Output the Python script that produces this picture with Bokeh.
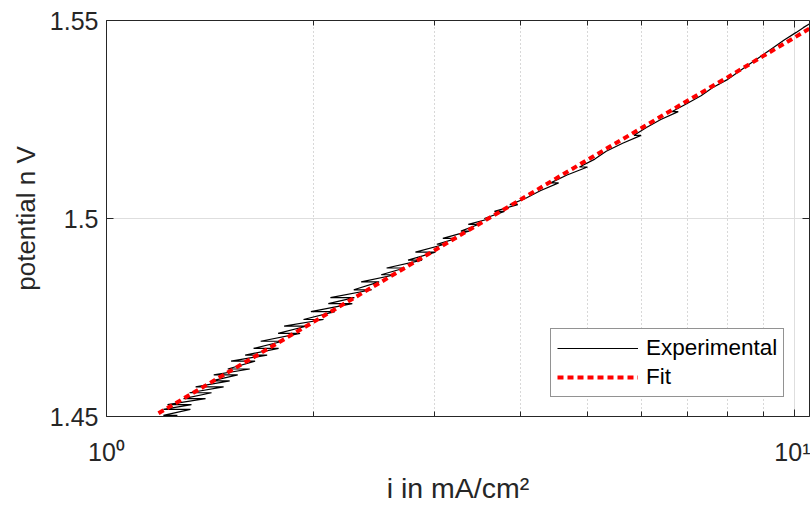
from bokeh.plotting import figure
from bokeh.models import (LogAxis, LinearAxis, FixedTicker, Legend, LegendItem,
                          Range1d, ColumnDataSource)
from bokeh.embed import file_html
from bokeh.resources import INLINE

# ---- data ----
exp_i = [1.2678, 1.2097, 1.3243, 1.2099, 1.3290, 1.2264, 1.3930, 1.2941,
         1.4213, 1.3204, 1.4799, 1.3476, 1.5103, 1.4219, 1.5515, 1.4318,
         1.6153, 1.5006, 1.6442, 1.5174, 1.7120, 1.5905, 1.7789, 1.6361,
         1.8033, 1.6754, 1.9116, 1.7760, 1.9506, 1.8121, 2.0675, 1.9336,
         2.1478, 1.9821, 2.2766, 2.1010, 2.2924, 2.1157, 2.4301, 2.2879,
         2.4906, 2.3452, 2.6282, 2.5078, 2.7120, 2.5536, 2.8748, 2.7432,
         3.0068, 2.8121, 3.1026, 3.0207, 3.2302, 3.0823, 3.3633, 3.2744,
         3.4706, 3.3564, 3.6134, 3.5417, 3.7879, 3.6630, 3.9611, 3.8563,
         4.0558, 4.2703, 4.5412, 4.4212, 4.6709, 5.0014, 4.8693, 5.1263,
         5.3256, 5.6262, 5.9835, 5.8450, 6.0930, 6.3932, 6.7764, 6.6416,
         6.9701, 7.3137, 7.5987, 7.9733, 8.2830, 8.6057, 8.9398, 9.2880,
         9.6483, 10.058, 10.298, 10.52]
exp_E = [1.4503, 1.4503, 1.4518, 1.4518, 1.4530, 1.4530, 1.4545, 1.4545,
         1.4560, 1.4560, 1.4575, 1.4575, 1.4590, 1.4590, 1.4605, 1.4605,
         1.4620, 1.4620, 1.4640, 1.4640, 1.4655, 1.4655, 1.4672, 1.4672,
         1.4690, 1.4690, 1.4710, 1.4710, 1.4728, 1.4728, 1.4745, 1.4745,
         1.4765, 1.4765, 1.4785, 1.4785, 1.4800, 1.4800, 1.4820, 1.4820,
         1.4840, 1.4840, 1.4858, 1.4858, 1.4875, 1.4875, 1.4895, 1.4895,
         1.4915, 1.4915, 1.4935, 1.4935, 1.4950, 1.4950, 1.4968, 1.4968,
         1.4985, 1.4985, 1.5000, 1.5000, 1.5018, 1.5018, 1.5035, 1.5035,
         1.5050, 1.5070, 1.5090, 1.5090, 1.5110, 1.5130, 1.5130, 1.5150,
         1.5170, 1.5190, 1.5210, 1.5210, 1.5230, 1.5250, 1.5270, 1.5270,
         1.5290, 1.5310, 1.5330, 1.5350, 1.5370, 1.5390, 1.5410, 1.5430,
         1.5450, 1.5470, 1.5482, 1.5492]

fit_i = [1.19, 1.5, 2, 3, 4, 5, 6, 7, 8, 9, 10, 10.52]
fit_E = [1.4508, 1.4611, 1.4739, 1.4920, 1.5048, 1.5148, 1.5229, 1.5298,
         1.5357, 1.5410, 1.5457, 1.5480]

x_major = [1, 10]
x_minor = [2, 3, 4, 5, 6, 7, 8, 9]
x_labels = {1: "10\u2070", 10: "10\u00b9"}
y_ticks = [1.45, 1.5, 1.55]
y_labels = {1.45: "1.45", 1.5: "1.5", 1.55: "1.55"}
series_names = ["Experimental", "Fit"]

FONT = "Liberation Sans"
AX = "#262626"

p = figure(width=810, height=508, x_axis_type="log",
           x_range=Range1d(1, 10.515), y_range=Range1d(1.45, 1.55),
           output_backend="svg", toolbar_location=None,
           min_border_left=106, min_border_right=1, min_border_top=20,
           min_border_bottom=92)
p.outline_line_color = None
p.background_fill_color = "white"
p.border_fill_color = "white"

xt = FixedTicker(ticks=x_major, minor_ticks=x_minor)
yt = FixedTicker(ticks=y_ticks, minor_ticks=[])


def style_axis(ax, minor=True):
    ax.axis_line_color = AX
    ax.axis_line_width = 1
    ax.major_tick_line_color = AX
    ax.major_tick_in = 7
    ax.major_tick_out = 0
    ax.minor_tick_line_color = AX if minor else None
    ax.minor_tick_in = 5
    ax.minor_tick_out = 0
    ax.major_label_text_font = FONT
    ax.major_label_text_color = AX
    ax.major_label_text_font_size = "25px"
    ax.axis_label_text_font = FONT
    ax.axis_label_text_color = AX
    ax.axis_label_text_font_size = "27.5px"
    ax.axis_label_text_font_style = "normal"


def hide_labels(ax):
    ax.major_label_text_font_size = "1px"
    ax.major_label_text_color = None
    ax.major_label_standoff = 0


xa = p.xaxis[0]
xa.ticker = xt
style_axis(xa)
xa.major_label_overrides = x_labels
xa.major_label_standoff = 21
xa.axis_label = "i in mA/cm\u00b2"
xa.axis_label_text_font_size = "28.5px"
xa.axis_label_standoff = 3

ya = p.yaxis[0]
ya.ticker = yt
style_axis(ya, minor=False)
ya.major_label_overrides = y_labels
ya.major_label_standoff = 8
ya.axis_label = "potential n V"
ya.axis_label_text_font_size = "26px"
ya.axis_label_standoff = 6

top = LogAxis(ticker=xt)
style_axis(top)
hide_labels(top)
p.add_layout(top, "above")

right = LinearAxis(ticker=yt)
style_axis(right, minor=False)
hide_labels(right)
p.add_layout(right, "right")

p.xgrid.ticker = xt
p.xgrid.grid_line_color = "#dedede"
p.xgrid.minor_grid_line_color = "#b0b0b0"
p.xgrid.minor_grid_line_dash = "1 3"
p.ygrid.ticker = yt
p.ygrid.grid_line_color = "#dedede"

src_exp = ColumnDataSource(dict(x=exp_i, y=exp_E))
src_fit = ColumnDataSource(dict(x=fit_i, y=fit_E))

r_exp = p.line("x", "y", source=src_exp, line_color="black", line_width=1.2)
r_fit = p.line("x", "y", source=src_fit, line_color="#ff0000", line_width=4,
               line_dash="6 4", line_cap="butt")

legend = Legend(items=[LegendItem(label=series_names[0], renderers=[r_exp]),
                       LegendItem(label=series_names[1], renderers=[r_fit])],
                location=(444, 19))
legend.label_text_font = FONT
legend.label_text_font_size = "22.5px"
legend.label_text_color = "black"
legend.border_line_color = AX
legend.border_line_width = 1
legend.background_fill_color = "white"
legend.background_fill_alpha = 1
legend.glyph_width = 81
legend.glyph_height = 22
legend.label_height = 22
legend.label_standoff = 8
legend.spacing = 3
legend.padding = 6
legend.margin = 0
p.add_layout(legend)

open("out.html", "w").write(file_html(p, INLINE))
